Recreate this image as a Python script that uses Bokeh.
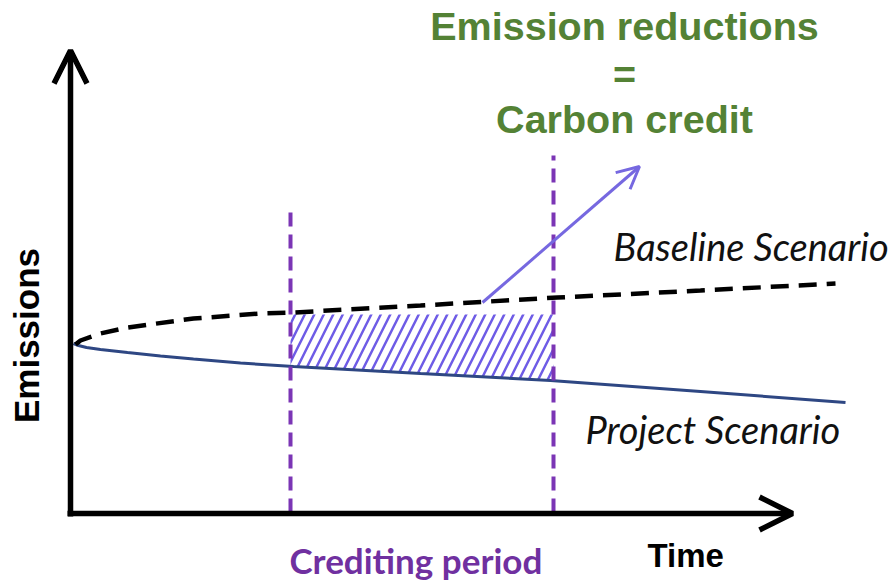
import numpy as np
from bokeh.plotting import figure
from bokeh.models import Range1d, Arrow, OpenHead
from bokeh.core.properties import value
from bokeh.embed import file_html
from bokeh.resources import INLINE

# ---- conceptual data (time units, emission units) ----
baseline_time = [5, 10, 30, 57, 123, 190, 223, 350, 487, 630, 765]
baseline_emis = [169, 173, 180, 186, 195, 200, 201, 208, 216, 223, 230]
project_time = [3, 8, 16, 30, 57, 90, 123, 170, 223, 350, 480, 630, 775]
project_emis = [170, 168, 166, 164, 161, 157.5, 154.5, 150.5, 147, 140, 133, 122, 111]
period_start = 220
period_end = 483
period_tops = [303, 358]
credit_level = 199
axis_x_max = 722
axis_y_max = 463
arrow_from = (412, 211)
arrow_to = (569, 347)

title_lines = ["Emission reductions", "=", "Carbon credit"]
title_y = [488, 440, 395]
title_x = 554

p = figure(width=894, height=583, x_range=Range1d(-70, 824), y_range=Range1d(-70, 513),
           x_axis_type=None, y_axis_type=None, toolbar_location=None,
           output_backend="svg", min_border=0)
p.grid.visible = False
p.outline_line_color = None
p.background_fill_color = "white"

# hatched emission-reduction area
xs = [period_start] + [t for t in project_time if period_start < t < period_end] + [period_end]
y_low = np.interp(xs, project_time, project_emis)
p.varea(x=xs, y1=y_low, y2=[credit_level] * len(xs), fill_alpha=0,
        hatch_pattern="/", hatch_color="#6e5ce6", hatch_scale=19, hatch_weight=2.5)

# project scenario
p.line(project_time, project_emis, line_color="#2e4783", line_width=3)
# baseline scenario
p.line(baseline_time, baseline_emis, line_color="black", line_width=4.5, line_dash="18 10")

# crediting period boundaries
p.segment(x0=[period_start, period_end], y0=[1, 1], x1=[period_start, period_end], y1=period_tops,
          line_color="#7b35b5", line_width=4, line_dash="14 8")

# axes with arrows
p.add_layout(Arrow(end=OpenHead(size=33, line_width=5.5, line_color="black"),
                   x_start=0, y_start=-3, x_end=0, y_end=axis_y_max,
                   line_width=5.5, line_color="black"))
p.add_layout(Arrow(end=OpenHead(size=33, line_width=5.5, line_color="black"),
                   x_start=-3, y_start=0, x_end=axis_x_max, y_end=0,
                   line_width=5.5, line_color="black"))

# pointer arrow
p.add_layout(Arrow(end=OpenHead(size=22, line_width=3, line_color="#7668e0"),
                   x_start=arrow_from[0], y_start=arrow_from[1], x_end=arrow_to[0], y_end=arrow_to[1],
                   line_width=3, line_color="#7668e0"))

# title text
p.text(x=[title_x] * 3, y=title_y, text=title_lines, text_align="center",
       text_baseline="alphabetic", text_font=value("Liberation Sans"), text_font_style="bold",
       text_font_size="39.5px", text_color="#548235")

# scenario labels
p.text(x=[543, 515], y=[268, 85], text=["Baseline Scenario", "Project Scenario"],
       text_align="left", text_baseline="alphabetic", text_font=value("Lato"),
       text_font_style="italic", text_font_size="38px", text_color="#111111")

# axis labels
p.text(x=[-44], y=[178], text=["Emissions"], angle=np.pi / 2, text_align="center",
       text_baseline="alphabetic", text_font=value("Liberation Sans"), text_font_style="bold",
       text_font_size="35px", text_color="black")
p.text(x=[577], y=[-42], text=["Time"], text_align="left", text_baseline="alphabetic",
       text_font=value("Liberation Sans"), text_font_style="bold", text_font_size="33px",
       text_color="black")
p.text(x=[219], y=[-46], text=["Crediting period"], text_align="left", text_baseline="alphabetic",
       text_font=value("Lato"), text_font_style="bold", text_font_size="35px",
       text_color="#7030a0")

open("out.html", "w").write(file_html(p, INLINE))
